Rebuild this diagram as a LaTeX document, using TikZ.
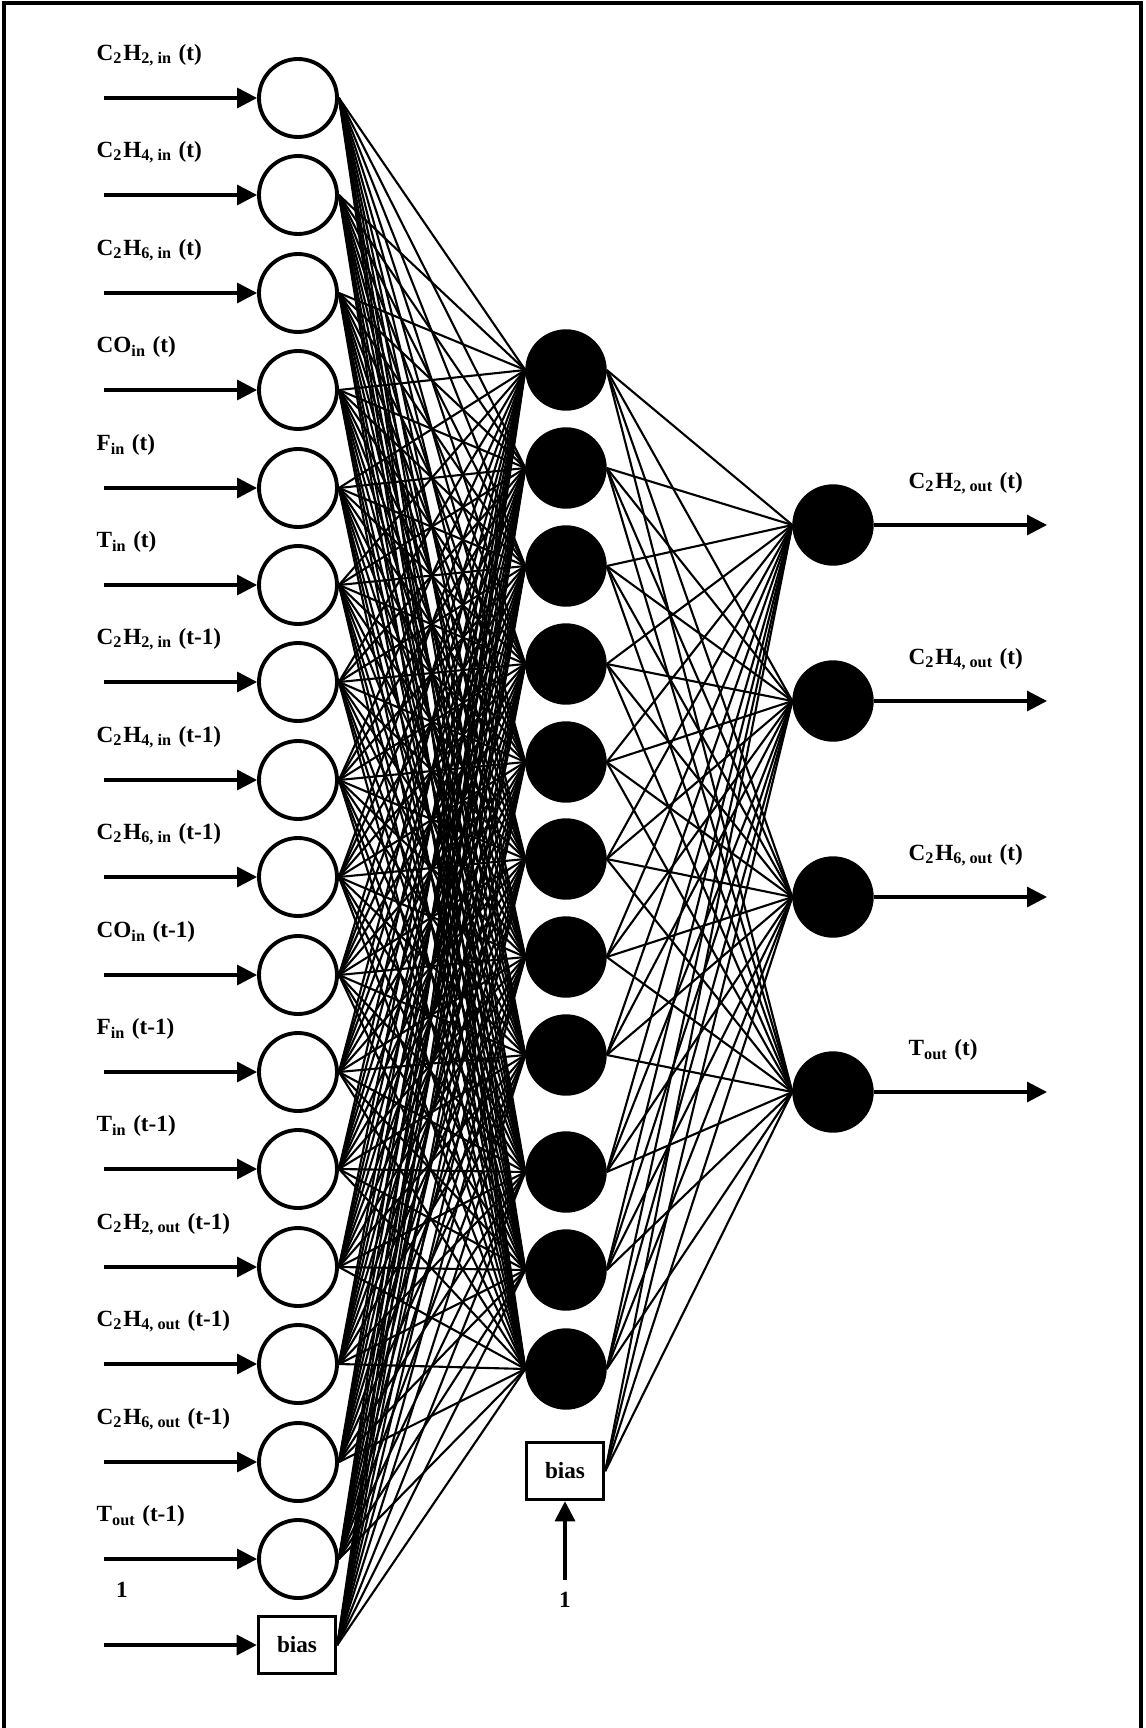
\documentclass[tikz,border=0pt]{standalone}
\usepackage{fontspec}
\setmainfont{Liberation Serif}
\usetikzlibrary{arrows.meta}

\begin{document}
\begin{tikzpicture}[x=0.1mm,y=-0.1mm,
    font=\fontsize{6.6}{8}\selectfont\bfseries,
    inp/.style={circle,draw,line width=1.1pt,fill=white,minimum size=7.8mm,inner sep=0pt},
    hid/.style={circle,draw,fill=black,minimum size=8mm,inner sep=0pt},
    outp/.style={circle,draw,fill=black,minimum size=8mm,inner sep=0pt},
    biasbox/.style={draw,line width=1pt,fill=white,minimum width=7.7mm,minimum height=5.7mm,inner sep=0pt},
    lbl/.style={anchor=west,inner sep=0pt},
    wire/.style={line width=0.6pt},
    feed/.style={line width=0.9pt,-{Triangle[length=2mm,width=2mm]}}]
  \useasboundingbox (0,0) rectangle (1145,1728);
  \draw[line width=1pt] (4,1728) -- (4,3) -- (1141,3) -- (1141,1728);

  % input layer
  \node[inp] (in1) at (298,98) {};
  \node[inp] (in2) at (298,195) {};
  \node[inp] (in3) at (298,293) {};
  \node[inp] (in4) at (298,390) {};
  \node[inp] (in5) at (298,488) {};
  \node[inp] (in6) at (298,585) {};
  \node[inp] (in7) at (298,682) {};
  \node[inp] (in8) at (298,780) {};
  \node[inp] (in9) at (298,877) {};
  \node[inp] (in10) at (298,975) {};
  \node[inp] (in11) at (298,1072) {};
  \node[inp] (in12) at (298,1169) {};
  \node[inp] (in13) at (298,1267) {};
  \node[inp] (in14) at (298,1364) {};
  \node[inp] (in15) at (298,1462) {};
  \node[inp] (in16) at (298,1559) {};
  \node[biasbox] (bias1) at (297,1645) {bias};

  \node[lbl] (l1) at (96,55) {C\textsubscript{2}H\textsubscript{2, in} (t)};
  \node[lbl] (l2) at (96,152) {C\textsubscript{2}H\textsubscript{4, in} (t)};
  \node[lbl] (l3) at (96,250) {C\textsubscript{2}H\textsubscript{6, in} (t)};
  \node[lbl] (l4) at (96,347) {CO\textsubscript{in} (t)};
  \node[lbl] (l5) at (96,445) {F\textsubscript{in} (t)};
  \node[lbl] (l6) at (96,542) {T\textsubscript{in} (t)};
  \node[lbl] (l7) at (96,639) {C\textsubscript{2}H\textsubscript{2, in} (t-1)};
  \node[lbl] (l8) at (96,737) {C\textsubscript{2}H\textsubscript{4, in} (t-1)};
  \node[lbl] (l9) at (96,834) {C\textsubscript{2}H\textsubscript{6, in} (t-1)};
  \node[lbl] (l10) at (96,932) {CO\textsubscript{in} (t-1)};
  \node[lbl] (l11) at (96,1029) {F\textsubscript{in} (t-1)};
  \node[lbl] (l12) at (96,1126) {T\textsubscript{in} (t-1)};
  \node[lbl] (l13) at (96,1224) {C\textsubscript{2}H\textsubscript{2, out} (t-1)};
  \node[lbl] (l14) at (96,1321) {C\textsubscript{2}H\textsubscript{4, out} (t-1)};
  \node[lbl] (l15) at (96,1419) {C\textsubscript{2}H\textsubscript{6, out} (t-1)};
  \node[lbl] (l16) at (96,1516) {T\textsubscript{out} (t-1)};
  \node (one1) at (122,1590) {1};

  % hidden layer
  \node[hid] (hid1) at (566,370) {};
  \node[hid] (hid2) at (566,468) {};
  \node[hid] (hid3) at (566,566) {};
  \node[hid] (hid4) at (566,664) {};
  \node[hid] (hid5) at (566,762) {};
  \node[hid] (hid6) at (566,859) {};
  \node[hid] (hid7) at (566,957) {};
  \node[hid] (hid8) at (566,1055) {};
  \node[hid] (hid9) at (566,1172) {};
  \node[hid] (hid10) at (566,1270) {};
  \node[hid] (hid11) at (566,1369) {};
  \node[biasbox] (bias2) at (565,1471) {bias};
  \node (one2) at (565,1600) {1};
  \coordinate (src2) at (565,1580);

  % output layer
  \node[outp] (out1) at (833,525) {};
  \node[outp] (out2) at (833,701) {};
  \node[outp] (out3) at (833,897) {};
  \node[outp] (out4) at (833,1092) {};
  \node[lbl] (r1) at (908,483) {C\textsubscript{2}H\textsubscript{2, out} (t)};
  \node[lbl] (r2) at (908,659) {C\textsubscript{2}H\textsubscript{4, out} (t)};
  \node[lbl] (r3) at (908,855) {C\textsubscript{2}H\textsubscript{6, out} (t)};
  \node[lbl] (r4) at (908,1050) {T\textsubscript{out} (t)};

  % weights
  \foreach \a in {1,...,16}
    \foreach \b in {1,...,11}
      \draw[wire] (in\a.east) -- (hid\b.west);
  \foreach \b in {1,...,11}
    \draw[wire] (bias1.east) -- (hid\b.west);
  \foreach \a in {1,...,11}
    \foreach \b in {1,...,4}
      \draw[wire] (hid\a.east) -- (out\b.west);
  \foreach \b in {1,...,4}
    \draw[wire] (bias2.east) -- (out\b.west);

  % inputs and outputs
  \foreach \a/\y in {1/98,2/195,3/293,4/390,5/488,6/585,7/682,8/780,9/877,10/975,11/1072,12/1169,13/1267,14/1364,15/1462,16/1559} {
    \coordinate (s\a) at (104,\y);
    \draw[feed] (s\a) -- (in\a);
  }
  \coordinate (src1) at (104,1645);
  \draw[feed] (src1) -- (bias1);
  \draw[feed] (src2) -- (bias2);
  \foreach \b in {1,...,4} {
    \coordinate (e\b) at (1047,0 |- out\b);
    \draw[feed] (out\b) -- (e\b);
  }
\end{tikzpicture}
\end{document}
